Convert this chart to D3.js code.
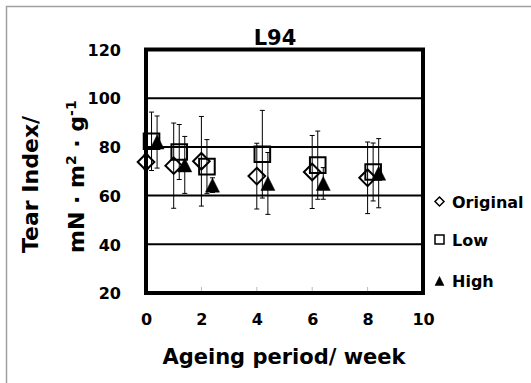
<!DOCTYPE html>
<html><head><meta charset="utf-8">
<script src="https://cdn.jsdelivr.net/npm/d3@7"></script>
<style>
body{margin:0;background:#fff;}
svg{display:block;font-family:"DejaVu Sans",Verdana,sans-serif;font-weight:bold;}
</style></head><body>
<svg id="c" width="531" height="383"></svg>
<script>
const weeks = [0, 1, 2, 4, 6, 8];
const seriesNames = ["Original", "Low", "High"];
const seriesOffsets = [0, 0.2, 0.4];
const originalValues = [73.8, 72.3, 74.1, 68.0, 69.7, 67.3];
const originalErrors = [3.0, 17.5, 18.4, 13.5, 15.0, 14.7];
const lowValues = [82.3, 77.9, 71.9, 77.0, 72.5, 69.7];
const lowErrors = [12.0, 11.3, 11.1, 18.0, 14.0, 11.9];
const highValues = [82.0, 72.6, 64.3, 65.0, 65.0, 69.2];
const highErrors = [10.7, 11.7, 3.0, 12.7, 6.5, 14.2];
const xTicks = [0, 2, 4, 6, 8, 10];
const yTicks = [20, 40, 60, 80, 100, 120];
const chartTitle = "L94";
const xTitle = "Ageing period/ week";

const svg = d3.select("#c");
const x = d3.scaleLinear().domain([0, 10]).range([146, 423]);
const y = d3.scaleLinear().domain([20, 120]).range([293, 49.5]);

// outer frame
svg.append("rect").attr("x", 6.5).attr("y", 6.5).attr("width", 700).attr("height", 700)
  .attr("fill", "none").attr("stroke", "#a0a0a0").attr("stroke-width", 1.5);

// gridlines
svg.append("g").selectAll("line").data(yTicks.filter(t => t > 20 && t < 120)).join("line")
  .attr("x1", x(0)).attr("x2", x(10)).attr("y1", d => y(d)).attr("y2", d => y(d))
  .attr("stroke", "#000").attr("stroke-width", 2);

// small grey ticks at bottom
svg.append("g").selectAll("line").data(xTicks.filter(t => t > 0 && t < 10)).join("line")
  .attr("x1", d => x(d)).attr("x2", d => x(d)).attr("y1", y(20)).attr("y2", y(20) - 6)
  .attr("stroke", "#bbb").attr("stroke-width", 1);

// plot border
svg.append("rect").attr("x", x(0)).attr("y", y(120)).attr("width", x(10) - x(0)).attr("height", y(20) - y(120))
  .attr("fill", "none").attr("stroke", "#000").attr("stroke-width", 4);

// axes labels via d3 axes
const yAxis = svg.append("g").attr("transform", `translate(${x(0) - 25},0)`)
  .call(d3.axisLeft(y).tickValues(yTicks).tickSize(0).tickPadding(0));
yAxis.select(".domain").remove();
yAxis.selectAll("text").attr("font-size", 16).attr("font-weight", "bold")
  .attr("font-family", "DejaVu Sans").attr("fill", "#000").attr("dy", "0.36em");

const xAxis = svg.append("g").attr("transform", `translate(0,${y(20) + 21})`)
  .call(d3.axisBottom(x).tickValues(xTicks).tickSize(0).tickPadding(0));
xAxis.select(".domain").remove();
xAxis.selectAll("text").attr("font-size", 16).attr("font-weight", "bold")
  .attr("font-family", "DejaVu Sans").attr("fill", "#000").attr("dy", "0.71em");

// titles
svg.append("text").attr("x", 275).attr("y", 45).attr("text-anchor", "middle")
  .attr("font-size", 21).text(chartTitle);
svg.append("text").attr("x", 284).attr("y", 364).attr("text-anchor", "middle")
  .attr("font-size", 21).text(xTitle);
svg.append("text").attr("transform", "translate(38,253) rotate(-90)")
  .attr("font-size", 22).text("Tear Index/");
const yt2 = svg.append("text").attr("transform", "translate(84,253) rotate(-90)")
  .attr("font-size", 22);
yt2.append("tspan").text("mN · m");
yt2.append("tspan").attr("font-size", 14).attr("dy", -8).text("2");
yt2.append("tspan").attr("dy", 8).text(" · g");
yt2.append("tspan").attr("font-size", 14).attr("dy", -8).text("-1");

// data
const series = [
  {name: seriesNames[0], values: originalValues, errors: originalErrors, off: seriesOffsets[0], shape: "diamond"},
  {name: seriesNames[1], values: lowValues, errors: lowErrors, off: seriesOffsets[1], shape: "square"},
  {name: seriesNames[2], values: highValues, errors: highErrors, off: seriesOffsets[2], shape: "triangle"}
];

function markerPath(shape, s) {
  if (shape === "diamond") return `M0,${-s}L${s},0L0,${s}L${-s},0Z`;
  if (shape === "square") return `M${-s},${-s}H${s}V${s}H${-s}Z`;
  return `M0,${-s}L${s},${s}L${-s},${s}Z`;
}

series.forEach(se => {
  const pts = weeks.map((w, i) => ({x: w + se.off, v: se.values[i], e: se.errors[i]}));
  const g = svg.append("g");
  g.selectAll("line.eb").data(pts).join("line").attr("class", "eb")
    .attr("x1", d => x(d.x)).attr("x2", d => x(d.x))
    .attr("y1", d => y(d.v + d.e)).attr("y2", d => y(d.v - d.e))
    .attr("stroke", "#000").attr("stroke-width", 1);
  [1, -1].forEach(sg => {
    g.selectAll("line.cap" + sg).data(pts).join("line")
      .attr("x1", d => x(d.x) - 2.5).attr("x2", d => x(d.x) + 2.5)
      .attr("y1", d => y(d.v + sg * d.e)).attr("y2", d => y(d.v + sg * d.e))
      .attr("stroke", "#000").attr("stroke-width", 1);
  });
  const size = se.shape === "diamond" ? 8.3 : se.shape === "square" ? 7.8 : 7;
  g.selectAll("path").data(pts).join("path")
    .attr("transform", d => `translate(${x(d.x)},${y(d.v)})`)
    .attr("d", markerPath(se.shape, size))
    .attr("fill", se.shape === "triangle" ? "#000" : "none")
    .attr("stroke", "#000").attr("stroke-width", se.shape === "triangle" ? 0.5 : 2);
});

// legend
const legY = [201.5, 239.5, 281];
series.forEach((se, i) => {
  svg.append("path").attr("transform", `translate(439.5,${legY[i]})`)
    .attr("d", markerPath(se.shape, 4.5))
    .attr("fill", se.shape === "triangle" ? "#000" : "none")
    .attr("stroke", "#000").attr("stroke-width", se.shape === "triangle" ? 0.5 : 1.5);
  svg.append("text").attr("x", 452).attr("y", legY[i] + 6).attr("font-size", 16).text(se.name);
});
</script></body></html>
